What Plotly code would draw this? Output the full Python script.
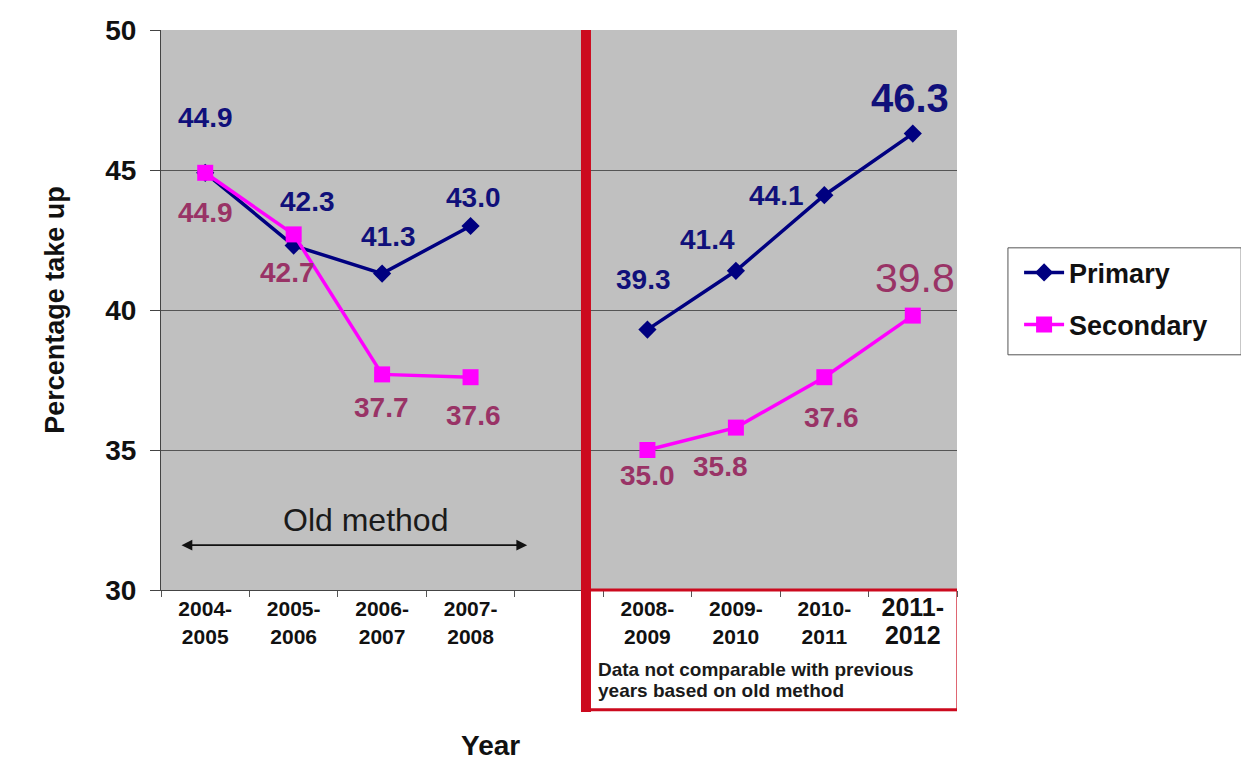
import plotly.graph_objects as go

# School meal take-up by academic year (blank entry separates old and new method)
periods = ["2004-2005", "2005-2006", "2006-2007", "2007-2008", "",
           "2008-2009", "2009-2010", "2010-2011", "2011-2012"]
primary = [44.9, 42.3, 41.3, 43.0, None, 39.3, 41.4, 44.1, 46.3]
secondary = [44.9, 42.7, 37.7, 37.6, None, 35.0, 35.8, 37.6, 39.8]
y_ticks = [30, 35, 40, 45, 50]

FONT = "Liberation Sans, Arial, sans-serif"
NAVY = "#000080"
MAGENTA = "#FF00FF"
MAUVE = "#993366"
RED = "#CC0A1E"


def tick_label(p):
    if not p:
        return " "
    a, b = p.split("-")
    if p == periods[-1]:
        return f"<span style='font-size:25px'>{a}-<br>{b}</span>"
    return f"{a}-<br>{b}"


cats = [tick_label(p) for p in periods]

fig = go.Figure()
fig.add_trace(go.Scatter(
    x=cats, y=primary, name="Primary", mode="lines+markers",
    line=dict(color=NAVY, width=3.5),
    marker=dict(symbol="diamond", size=14, color=NAVY),
    legendgroup="p", connectgaps=False,
))
fig.add_trace(go.Scatter(
    x=cats, y=secondary, name="Secondary", mode="lines+markers",
    line=dict(color=MAGENTA, width=3.5),
    marker=dict(symbol="square", size=16, color=MAGENTA),
    legendgroup="s", connectgaps=False,
))

# value labels: (xshift, yshift, size) per point
p_off = [(0, 55, 28), (14, 44, 28), (6, 37, 28), (3, 29, 28), None,
         (-4, 50, 28), (-28, 31, 28), (-48, 0, 28), (-3, 36, 40)]
s_off = [(0, -40, 28), (-6, -38, 28), (-1, -33, 28), (3, -38, 28), None,
         (0, -25, 28), (-15, -39, 28), (7, -40, 28), (2, 38, 41)]

annotations = []
for series, offs, color in ((primary, p_off, "#10107A"),
                            (secondary, s_off, MAUVE)):
    for c, v, o in zip(cats, series, offs):
        if v is None:
            continue
        dx, dy, sz = o
        weight = "bold"
        if sz > 30 and series is secondary:
            weight = "normal"
        annotations.append(dict(
            x=c, y=v, xref="x", yref="y", text=f"{v:.1f}", showarrow=False,
            xshift=dx, yshift=dy,
            font=dict(family=FONT, size=sz, color=color, weight=weight),
        ))

# "Old method" span arrow
annotations.append(dict(
    x=3.64, y=31.6, ax=-0.285, ay=31.6, xref="x", yref="y",
    axref="x", ayref="y", text="", showarrow=True,
    arrowhead=2, arrowside="end+start", arrowsize=1.2, arrowwidth=1.8,
    arrowcolor="#111111",
))
annotations.append(dict(
    x=1.81, y=32.5, xref="x", yref="y", text="Old method", showarrow=False,
    font=dict(family=FONT, size=32, color="#1a1a1a"),
))
note_lines = ["Data not comparable with previous", "years based on old method"]
for i, line in enumerate(note_lines):
    annotations.append(dict(
        x=4.42, y=(590 - 669 - 21 * i) / 560, xref="x", yref="paper",
        xanchor="left", yanchor="middle", showarrow=False, text=line,
        font=dict(family=FONT, size=19, color="#1a1a1a", weight="bold"),
    ))
annotations.append(dict(
    x=(490 - 161) / 796, y=(590 - 745) / 560, xref="paper", yref="paper",
    text="Year", showarrow=False, yanchor="middle",
    font=dict(family=FONT, size=28, color="#111111", weight="bold"),
))

shapes = [
    # separator between old and new method
    dict(type="line", xref="x", yref="paper", x0=4.305, x1=4.305,
         y0=1, y1=-0.218, line=dict(color=RED, width=10)),
    # box around the new-method years
    dict(type="rect", xref="x", yref="paper", x0=4.305, x1=8.51,
         y0=0, y1=-0.214, line=dict(color=RED, width=3)),
    # legend frame
    dict(type="rect", xref="paper", yref="paper", x0=1.064, x1=1.357,
         y0=0.420, y1=0.611, line=dict(color="#555555", width=1),
         fillcolor="white", layer="below"),
]

fig.update_layout(
    width=1241, height=761,
    margin=dict(l=161, r=284, t=30, b=171),
    paper_bgcolor="white", plot_bgcolor="#C0C0C0",
    font=dict(family=FONT, color="#111111"),
    showlegend=True,
    legend=dict(
        x=1.078, y=0.61, xanchor="left", yanchor="top",
        bgcolor="rgba(0,0,0,0)", borderwidth=0,
        font=dict(family=FONT, size=27, color="#111111", weight="bold"),
        itemwidth=40, tracegroupgap=14, traceorder="grouped",
    ),
    xaxis=dict(
        type="category", categoryorder="array", categoryarray=cats,
        range=[-0.5, 8.5], tickson="boundaries", ticks="outside",
        ticklen=6, tickcolor="#555555", showgrid=False,
        showline=True, linecolor="#444444", linewidth=1,
        tickfont=dict(family=FONT, size=21, color="#111111", weight="bold"),
    ),
    yaxis=dict(
        range=[30, 50], tickvals=y_ticks, ticks="outside", ticklen=10,
        tickcolor="#444444", showgrid=True, gridcolor="#555555",
        gridwidth=1, showline=True, linecolor="#444444", linewidth=1,
        zeroline=False, ticklabelstandoff=8,
        tickfont=dict(family=FONT, size=28, color="#111111", weight="bold"),
        title=dict(text="Percentage take up", standoff=32,
                   font=dict(family=FONT, size=27, color="#111111",
                             weight="bold")),
    ),
    annotations=annotations,
    shapes=shapes,
)

fig.write_html("out.html")
